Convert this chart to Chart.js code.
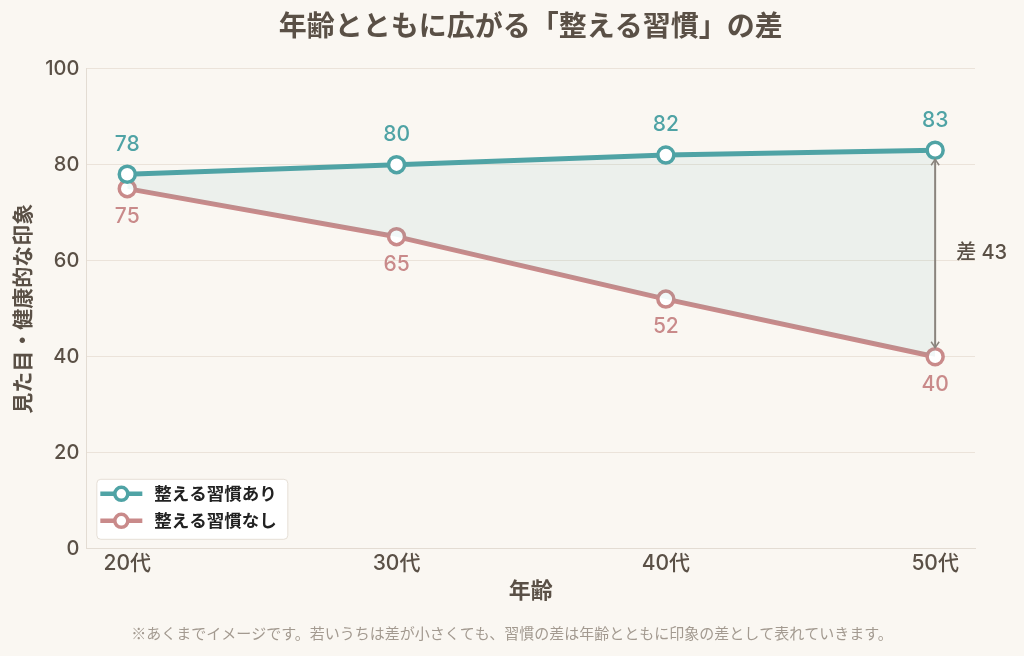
<!DOCTYPE html>
<html lang="ja">
<head>
<meta charset="utf-8">
<script src="https://cdn.jsdelivr.net/npm/chart.js@4.4.1/dist/chart.umd.min.js"></script>
<style>
  html, body { margin: 0; padding: 0; background: #faf7f2; overflow: hidden; }
  #c { display: block; width: 1024px; height: 656px; }
</style>
</head>
<body>
<canvas id="c" width="1024" height="656"></canvas>
<script>
const categories = ['20代', '30代', '40代', '50代'];
const withHabit = [78, 80, 82, 83];
const withoutHabit = [75, 65, 52, 40];
const seriesNames = ['整える習慣あり', '整える習慣なし'];
const yTicks = [0, 20, 40, 60, 80, 100];
const titleText = '年齢とともに広がる「整える習慣」の差';
const noteText = '※あくまでイメージです。若いうちは差が小さくても、習慣の差は年齢とともに印象の差として表れていきます。';
const xTitle = '年齢';
const yTitle = '見た目・健康的な印象';

const TEAL = '#4fa3a5';
const ROSE = '#c98a8a';
const TEXT = '#5a5046';
const FONT = '"Noto Sans CJK JP", "Noto Sans", sans-serif';
const NUMFONT = 'Inter, "DejaVu Sans", "Noto Sans CJK JP", sans-serif';

const toPts = arr => arr.map((v, i) => ({ x: i, y: v }));

const labelsPlugin = {
  id: 'valueLabels',
  afterDatasetsDraw(chart) {
    const ctx = chart.ctx;
    ctx.save();
    ctx.font = '500 21px ' + NUMFONT;
    ctx.textAlign = 'center';
    ctx.textBaseline = 'middle';
    chart.data.datasets.forEach((ds, di) => {
      const meta = chart.getDatasetMeta(di);
      ctx.fillStyle = ds.borderColor;
      meta.data.forEach((pt, i) => {
        const off = di === 0 ? -30 : 28;
        ctx.fillText(String(ds.data[i].y), pt.x, pt.y + off);
      });
    });
    ctx.restore();
  }
};

const gapPlugin = {
  id: 'gapArrow',
  afterDatasetsDraw(chart) {
    const ctx = chart.ctx;
    const last = categories.length - 1;
    const xs = chart.scales.x, ys = chart.scales.y;
    const x = xs.getPixelForValue(last);
    const yTop = ys.getPixelForValue(withHabit[last]) + 9;
    const yBot = ys.getPixelForValue(withoutHabit[last]) - 9;
    ctx.save();
    ctx.strokeStyle = '#8a847d';
    ctx.lineWidth = 2;
    ctx.beginPath();
    ctx.moveTo(x, yTop); ctx.lineTo(x, yBot);
    ctx.stroke();
    ctx.lineWidth = 1.5;
    ctx.beginPath();
    ctx.moveTo(x - 4, yTop + 6); ctx.lineTo(x, yTop); ctx.lineTo(x + 4, yTop + 6);
    ctx.moveTo(x - 4, yBot - 6); ctx.lineTo(x, yBot); ctx.lineTo(x + 4, yBot - 6);
    ctx.stroke();
    const diff = withHabit[last] - withoutHabit[last];
    const ymid = ys.getPixelForValue((withHabit[last] + withoutHabit[last]) / 2);
    ctx.fillStyle = TEXT;
    ctx.font = '500 20px ' + NUMFONT;
    ctx.textAlign = 'left';
    ctx.textBaseline = 'middle';
    ctx.fillText('差 ' + diff, x + 21, ymid);
    ctx.restore();
  }
};

const legendPlugin = {
  id: 'innerLegend',
  afterDraw(chart) {
    const ctx = chart.ctx;
    const a = chart.chartArea;
    const bx = a.left + 10, by = a.bottom - 70, bw = 191, bh = 60;
    ctx.save();
    ctx.fillStyle = '#ffffff';
    ctx.strokeStyle = '#e6dfd6';
    ctx.lineWidth = 1;
    ctx.beginPath();
    ctx.roundRect(bx + 0.5, by + 0.5, bw, bh, 4);
    ctx.fill(); ctx.stroke();
    chart.data.datasets.forEach((ds, i) => {
      const cy = by + 15 + i * 27;
      ctx.strokeStyle = ds.borderColor;
      ctx.lineWidth = 4.5;
      ctx.beginPath();
      ctx.moveTo(bx + 4, cy); ctx.lineTo(bx + 46, cy);
      ctx.stroke();
      ctx.fillStyle = '#fff';
      ctx.lineWidth = 3.5;
      ctx.beginPath();
      ctx.arc(bx + 25, cy, 6.5, 0, Math.PI * 2);
      ctx.fill(); ctx.stroke();
      ctx.fillStyle = '#222';
      ctx.font = 'bold 17.5px ' + FONT;
      ctx.textAlign = 'left';
      ctx.textBaseline = 'middle';
      ctx.fillText(ds.label, bx + 58, cy);
    });
    ctx.restore();
  }
};

const notePlugin = {
  id: 'footNote',
  afterDraw(chart) {
    const ctx = chart.ctx;
    ctx.save();
    ctx.fillStyle = '#a39a90';
    ctx.font = '15px ' + FONT;
    ctx.textAlign = 'center';
    ctx.textBaseline = 'middle';
    ctx.fillText(noteText, chart.width / 2, 633);
    ctx.restore();
  }
};

const bgPlugin = {
  id: 'bg',
  beforeDraw(chart) {
    const ctx = chart.ctx;
    ctx.save();
    ctx.fillStyle = '#faf7f2';
    ctx.fillRect(0, 0, chart.width, chart.height);
    ctx.restore();
  }
};

new Chart(document.getElementById('c'), {
  type: 'line',
  data: {
    datasets: [
      {
        label: seriesNames[0],
        data: toPts(withHabit),
        borderColor: TEAL,
        backgroundColor: 'rgba(79,163,165,0.08)',
        borderWidth: 5,
        pointRadius: 8,
        pointBorderWidth: 3.5,
        pointBackgroundColor: '#fff',
        pointBorderColor: TEAL,
        fill: '+1',
        tension: 0
      },
      {
        label: seriesNames[1],
        data: toPts(withoutHabit),
        borderColor: ROSE,
        backgroundColor: ROSE,
        borderWidth: 5,
        pointRadius: 8,
        pointBorderWidth: 3.5,
        pointBackgroundColor: '#fff',
        pointBorderColor: ROSE,
        fill: false,
        tension: 0
      }
    ]
  },
  options: {
    responsive: false,
    animation: false,
    devicePixelRatio: 1,
    layout: { padding: { left: 9, right: 49, top: 0, bottom: 58 } },
    plugins: {
      legend: { display: false },
      tooltip: { enabled: false },
      title: {
        display: true,
        fullSize: false,
        text: titleText,
        color: TEXT,
        font: { family: FONT, size: 28, weight: 'bold' },
        padding: { top: 9, bottom: 26 }
      }
    },
    scales: {
      x: {
        type: 'linear',
        min: -0.152,
        max: categories.length - 1 + 0.148,
        afterBuildTicks(axis) {
          axis.ticks = categories.map((c, i) => ({ value: i }));
        },
        ticks: {
          color: TEXT,
          font: { family: NUMFONT, size: 21, weight: '500', lineHeight: 0.7 },
          padding: 0,
          maxRotation: 0,
          callback: v => categories[v]
        },
        grid: { display: false },
        border: { display: true, color: '#e3dcd3', width: 1 },
        title: {
          display: true,
          text: xTitle,
          color: TEXT,
          font: { family: FONT, size: 22, weight: 'bold', lineHeight: 0.75 },
          padding: { top: 10, bottom: 0 }
        }
      },
      y: {
        min: 0,
        max: 100,
        afterBuildTicks(axis) {
          axis.ticks = yTicks.map(v => ({ value: v }));
        },
        ticks: {
          color: TEXT,
          font: { family: NUMFONT, size: 20, weight: '500' },
          padding: 7
        },
        grid: { color: '#ebe3da', lineWidth: 1, drawTicks: false },
        border: { display: true, color: '#e3dcd3' },
        title: {
          display: true,
          text: yTitle,
          color: TEXT,
          font: { family: FONT, size: 21, weight: 'bold' },
          padding: { top: 0, bottom: 4 }
        }
      }
    }
  },
  plugins: [bgPlugin, labelsPlugin, gapPlugin, legendPlugin, notePlugin]
});
</script>
</body>
</html>
